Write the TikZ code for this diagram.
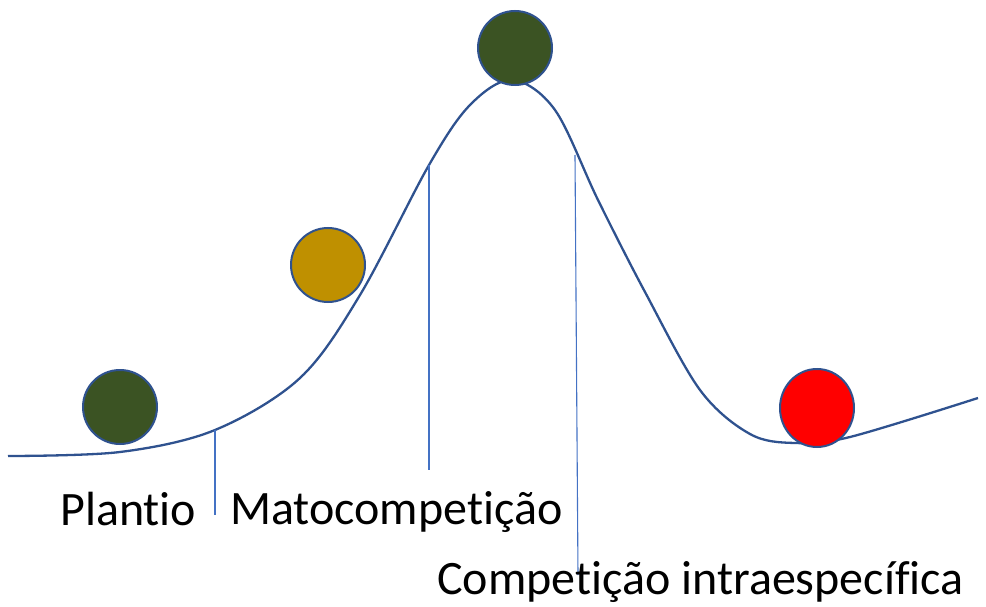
\documentclass[tikz,border=0pt]{standalone}
\usepackage{fontspec}
\setmainfont{Carlito}[Ligatures=NoCommon]
\usepackage{tikz}
\usetikzlibrary{positioning, shapes.geometric}

\definecolor{ballgreen}{HTML}{3B5323}
\definecolor{ballgold}{HTML}{BF9000}
\definecolor{ballred}{HTML}{FF0000}
\definecolor{curveblue}{HTML}{2F528F}
\definecolor{markblue}{HTML}{4472C4}

\begin{document}
\begin{tikzpicture}[
    x=1pt, y=-1pt,
    % Styles
    ball/.style={draw=curveblue, line width=2pt, circle, minimum size=74pt, inner sep=0pt},
    curve/.style={curveblue, line width=2.3pt},
    marker/.style={markblue, line width=1.1pt},
    lbl/.style={font=\fontsize{48}{54}\selectfont, anchor=base west, inner sep=0pt}
  ]
    \useasboundingbox (0,0) rectangle (986,607);

    % === Curve ===
    \draw[curve] plot[smooth, tension=0.55] coordinates {
      (8,456) (120,452) (215,430) (300,378) (360,295) (429,165) (470,105)
      (512,80) (555,110) (598,200) (645,292) (700,390) (750,434) (795,443)
      (850,437) (978,398)};

    % === Points on the curve ===
    \coordinate (pPlantio) at (215,430);
    \coordinate (pMato) at (429,165);
    \coordinate (pIntra) at (575,155);
    \coordinate (ePlantio) at (215,515);
    \coordinate (eMato) at (429,470);
    \coordinate (eIntra) at (578,575);

    % === Phase markers ===
    \draw[marker] (pPlantio) -- (ePlantio);
    \draw[marker] (pMato) -- (eMato);
    \draw[marker] (pIntra) -- (eIntra);

    % === Balls ===
    \node[ball, fill=ballgreen] (ballStart) at (120,407) {};
    \node[ball, fill=ballgold] (ballRise) at (328,265) {};
    \node[ball, fill=ballgreen] (ballTop) at (515,48) {};
    \node[ball, fill=ballred, ellipse, minimum width=74pt, minimum height=78pt] (ballEnd) at (817,408) {};

    % === Labels ===
    \node[lbl] (lPlantio) at (60,525) {Plantio};
    \node[lbl] (lMato) at (230,524) {Matocompetição};
    \node[lbl] (lIntra) at (437,594) {Competição intraespecífica};

  \end{tikzpicture}
\end{document}
